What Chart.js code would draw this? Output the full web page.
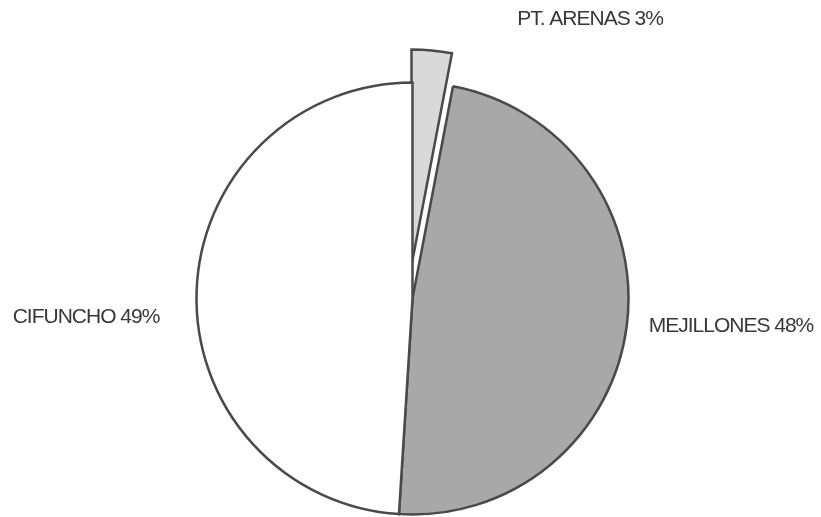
<!DOCTYPE html>
<html lang="es">
<head>
    <title>Pie</title>
    <script src="https://cdn.jsdelivr.net/npm/chart.js"></script>
    <style>
        html, body { margin: 0; padding: 0; background: #fff; }
        .chart-container { width: 821px; height: 517px; position: relative; }
        canvas { display: block; }
    </style>
</head>
<body>
    <div class="chart-container">
        <canvas id="myChart" width="821" height="517"></canvas>
    </div>

    <script>
        const labels = ["PT. ARENAS", "MEJILLONES", "CIFUNCHO"];
        const values = [3, 48, 49];
        const colors = ["#d9d9d9", "#a8a8a8", "#ffffff"];
        // where each label text sits (canvas px, centre of text)
        const labelSpots = [[590, 19], [731, 326], [86, 317]];

        // pull the first slice out, straight up like the original
        const explodePlugin = {
            id: "explode",
            afterDatasetUpdate(chart) {
                const arc = chart.getDatasetMeta(0).data[0];
                if (!arc || arc._exploded) return;
                const baseDraw = arc.draw;
                arc.draw = function (ctx) {
                    ctx.save();
                    ctx.translate(-1, -33);
                    baseDraw.call(this, ctx);
                    ctx.restore();
                };
                arc._exploded = true;
            }
        };

        const labelPlugin = {
            id: "sliceLabels",
            afterDraw(chart) {
                const ctx = chart.ctx;
                ctx.save();
                ctx.font = "21px 'Liberation Sans', Arial, sans-serif";
                ctx.letterSpacing = "-1px";
                ctx.fillStyle = "#383838";
                ctx.textAlign = "center";
                ctx.textBaseline = "middle";
                labels.forEach((l, i) => {
                    ctx.fillText(l + " " + values[i] + "%", labelSpots[i][0], labelSpots[i][1]);
                });
                ctx.restore();
            }
        };

        const ctx = document.getElementById("myChart").getContext("2d");
        new Chart(ctx, {
            type: "pie",
            data: {
                labels: labels,
                datasets: [{
                    data: values,
                    backgroundColor: colors,
                    borderColor: "#4a4a4a",
                    borderWidth: 2.5,
                    borderJoinStyle: "miter"
                }]
            },
            options: {
                responsive: false,
                animation: false,
                radius: 216,
                layout: {
                    padding: { top: 80, bottom: 0, left: 4, right: 0 }
                },
                plugins: {
                    legend: { display: false },
                    tooltip: { enabled: false }
                }
            },
            plugins: [explodePlugin, labelPlugin]
        });
    </script>
</body>
</html>
